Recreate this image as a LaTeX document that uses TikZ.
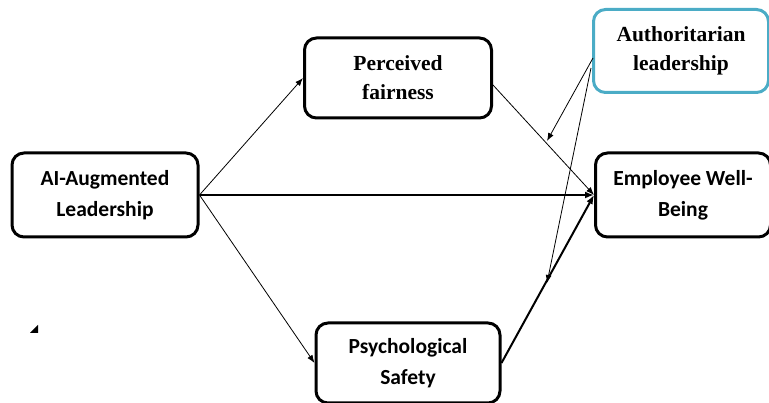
\documentclass[tikz,border=0pt]{standalone}
\usepackage{fontspec}
\setmainfont{Liberation Serif}
\newfontfamily\calib{Carlito}
\usetikzlibrary{arrows.meta}

\begin{document}
\begin{tikzpicture}[x=1pt, y=-1pt,
    box/.style={draw, line width=3pt, rounded corners=12pt, align=center,
      inner sep=0pt, font=\bfseries\fontsize{21.5}{29}\selectfont},
    sbox/.style={box, font=\calib\bfseries\fontsize{21.5}{31}\selectfont},
    thin/.style={-{Latex[length=8pt,width=6pt]}, line width=0.8pt},
    thick/.style={-{Latex[length=9pt,width=7pt]}, line width=2pt}]
  \useasboundingbox (0,0) rectangle (769,403);
  \definecolor{modblue}{HTML}{4BACC6}
  \node[sbox, minimum width=186pt, minimum height=84pt] (ai) at (105, 195) {AI-Augmented\\Leadership};
  \node[box, minimum width=187pt, minimum height=80pt] (pf) at (398, 78) {Perceived\\fairness};
  \node[sbox, minimum width=184pt, minimum height=80pt] (ps) at (408, 363) {Psychological\\Safety};
  \node[sbox, minimum width=175pt, minimum height=84pt] (ewb) at (683, 195) {Employee Well-\\Being};
  \node[box, draw=modblue, minimum width=175pt, minimum height=83pt] (auth) at (681, 51) {Authoritarian\\leadership};
  \coordinate (a1) at (593, 58);
  \coordinate (a2) at (591, 68);
  \coordinate (m1) at (547, 141);
  \coordinate (m2) at (547, 283);
  \draw [thin] (ai.east) to (pf.west);
  \draw [thin] (ai.east) to (ps.west);
  \draw [thick] (ai.east) to (ewb.west);
  \draw [thin] (pf.east) ++(0,7) to (ewb.west);
  \draw [thick] (ps.east) to (ewb.west);
  \draw [thin] (a1) to (m1);
  \draw [thin] (a2) to (m2);
  % stray mark
  \fill (30,333) -- (38,333) -- (38,325) -- cycle;
\end{tikzpicture}
\end{document}
